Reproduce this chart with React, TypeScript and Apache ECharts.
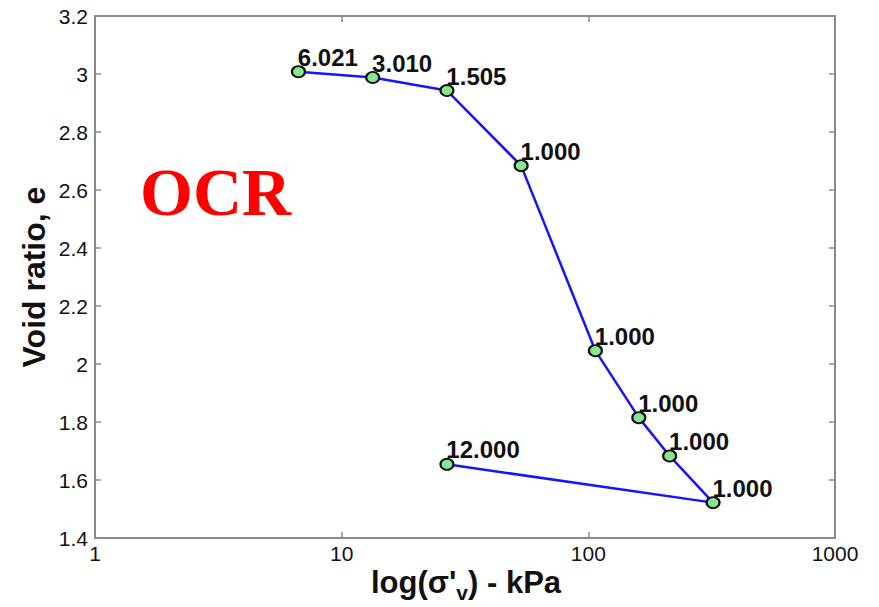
import React, { useEffect, useRef } from "react";
import * as echarts from "echarts";

const stress = [6.68, 13.36, 26.72, 53.4, 106.8, 160.2, 213.6, 320.4, 26.72];
const voidRatio = [3.008, 2.988, 2.943, 2.684, 2.046, 1.815, 1.683, 1.522, 1.654];
const ocrLabels = ["6.021", "3.010", "1.505", "1.000", "1.000", "1.000", "1.000", "1.000", "12.000"];
const xTicks = [1, 10, 100, 1000];

const FONT = "'Liberation Sans', Arial, sans-serif";

export default function App() {
  const ref = useRef<HTMLDivElement>(null);
  useEffect(() => {
    if (!ref.current) return;
    const chart = echarts.init(ref.current, null, { renderer: "svg" });
    const data = stress.map((s, i) => [s, voidRatio[i]]);
    const axisLine = { show: true, lineStyle: { color: "#8a8a8a", width: 2 } };
    const tick = { show: true, inside: true, length: 6, lineStyle: { color: "#8a8a8a", width: 1.5 } };
    chart.setOption({
      animation: false,
      backgroundColor: "#ffffff",
      grid: { left: 95, right: 44, top: 16, bottom: 69, containLabel: false, outerBoundsMode: "none" },
      xAxis: [
        {
          type: "log",
          logBase: 10,
          min: xTicks[0],
          max: xTicks[xTicks.length - 1],
          axisLine,
          axisTick: tick,
          minorTick: { show: false },
          splitLine: { show: false },
          axisLabel: { color: "#111", fontFamily: FONT, fontSize: 21, margin: 5, formatter: (v: number) => String(Math.round(v)) },
        },
        {
          type: "log",
          logBase: 10,
          position: "top",
          min: xTicks[0],
          max: xTicks[xTicks.length - 1],
          axisLine,
          axisTick: tick,
          splitLine: { show: false },
          axisLabel: { show: false },
        },
      ],
      yAxis: [
        {
          type: "value",
          min: 1.4,
          max: 3.2,
          interval: 0.2,
          axisLine,
          axisTick: tick,
          splitLine: { show: false },
          axisLabel: { color: "#111", fontFamily: FONT, fontSize: 21, margin: 7 },
        },
        {
          type: "value",
          position: "right",
          min: 1.4,
          max: 3.2,
          interval: 0.2,
          axisLine,
          axisTick: tick,
          splitLine: { show: false },
          axisLabel: { show: false },
        },
      ],
      series: [
        {
          type: "line",
          data,
          xAxisIndex: 0,
          yAxisIndex: 0,
          symbol: "circle",
          symbolSize: [13, 11],
          lineStyle: { color: "#1414ff", width: 2.5 },
          itemStyle: { color: "#84e88e", borderColor: "#111", borderWidth: 2 },
          label: {
            show: true,
            position: [7, -20],
            align: "left",
            verticalAlign: "top",
            formatter: (p: any) => ocrLabels[p.dataIndex],
            fontFamily: FONT,
            fontWeight: "bold",
            fontSize: 24,
            color: "#111",
          },
          z: 3,
        },
      ],
      graphic: [
        {
          type: "text",
          left: 140,
          top: 158,
          style: {
            text: "OCR",
            fill: "#ff0000",
            font: "bold 68px 'Liberation Serif', 'Times New Roman', serif",
          },
        },
        {
          type: "text",
          x: 34,
          y: 277,
          rotation: Math.PI / 2,
          style: {
            text: "Void ratio, e",
            fill: "#111",
            font: `bold 32px ${FONT}`,
            align: "center",
            verticalAlign: "middle",
          },
        },
        {
          type: "text",
          x: 466,
          y: 582,
          style: {
            text: "{a|log(σ'}{b|v}{a|) - kPa}",
            align: "center",
            verticalAlign: "middle",
            rich: {
              a: { fontFamily: FONT, fontWeight: "bold", fontSize: 31, fill: "#111", lineHeight: 42, verticalAlign: "middle" },
              b: { fontFamily: FONT, fontWeight: "bold", fontSize: 21, fill: "#111", lineHeight: 42, verticalAlign: "bottom" },
            },
          },
        },
      ],
    });
    return () => chart.dispose();
  }, []);
  return <div ref={ref} style={{ position: "fixed", left: 0, top: 0, width: 879, height: 607 }} />;
}
